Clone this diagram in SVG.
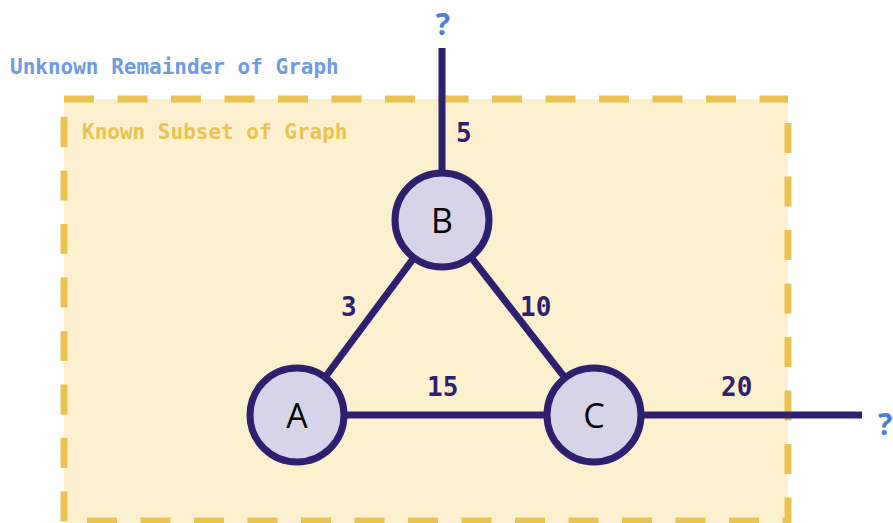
<svg xmlns="http://www.w3.org/2000/svg" width="893" height="523" viewBox="0 0 893 523">
<style>
.frame{stroke:#ebc352;stroke-width:7;stroke-dasharray:30 23.5;fill:none}
.edge{stroke:#2f1f6f;stroke-width:7;fill:none}
.node circle{fill:#d7d3e8;stroke:#2f1f6f;stroke-width:7}
.node text{font-family:"Open Sans","Noto Sans",sans-serif;font-size:34px;fill:#000;text-anchor:middle}
.w{font-family:"DejaVu Sans Mono","Liberation Mono",monospace;font-weight:bold;font-size:26px;fill:#2f1f6f}
.q{font-family:"Open Sans","Noto Sans",sans-serif;font-weight:bold;font-size:30px;fill:#4a7fd8}
.lbl{font-family:"DejaVu Sans Mono","Liberation Mono",monospace;font-weight:bold;font-size:21px}
</style>
<rect x="0" y="0" width="893" height="523" fill="#ffffff"/>
<g id="known-region">
<rect x="64" y="99" width="724" height="424" fill="#fdf0cf"/>
<line class="frame" x1="64" y1="99" x2="788" y2="99"/>
<line class="frame" x1="788" y1="123" x2="788" y2="523"/>
<line class="frame" x1="87" y1="521" x2="788" y2="521"/>
<line class="frame" x1="64" y1="117" x2="64" y2="523"/>
<text class="lbl" x="82" y="139" fill="#ebc352">Known Subset of Graph</text>
</g>
<text class="lbl" x="10" y="74" fill="#6e9ae6">Unknown Remainder of Graph</text>
<g id="connectors">
<line class="edge" x1="442" y1="48" x2="442" y2="175"/>
<line class="edge" x1="297" y1="415" x2="442" y2="220"/>
<line class="edge" x1="594" y1="415" x2="442" y2="220"/>
<line class="edge" x1="297" y1="415" x2="594" y2="415"/>
<line class="edge" x1="594" y1="415" x2="862" y2="415"/>
<text class="w" x="456" y="142">5</text>
<text class="w" x="341" y="316">3</text>
<text class="w" x="520" y="316">10</text>
<text class="w" x="427" y="396">15</text>
<text class="w" x="721" y="396">20</text>
</g>
<text class="q" x="443" y="35" text-anchor="middle">?</text>
<text class="q" x="878" y="435">?</text>
<g id="node-B" class="node"><circle cx="442" cy="220" r="47"/><text x="442" y="233">B</text></g>
<g id="node-A" class="node"><circle cx="297" cy="415" r="47"/><text x="297" y="428">A</text></g>
<g id="node-C" class="node"><circle cx="594" cy="415" r="47"/><text x="594" y="428">C</text></g>
</svg>
